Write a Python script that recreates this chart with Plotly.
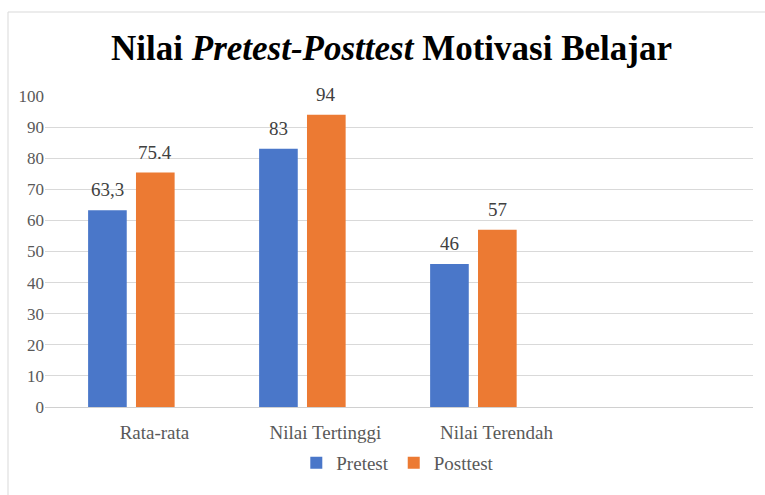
import plotly.graph_objects as go

categories = ["Rata-rata", "Nilai Tertinggi", "Nilai Terendah"]
pretest = [63.3, 83, 46]
posttest = [75.4, 94, 57]
pretest_labels = ["63,3", "83", "46"]
posttest_labels = ["75.4", "94", "57"]
y_ticks = [0, 10, 20, 30, 40, 50, 60, 70, 80, 90, 100]

FONT = "Liberation Serif"
x_pos = list(range(len(categories)))

BAR_W = 0.226
PRE_OFF = -0.251
POST_OFF = 0.029

fig = go.Figure()
fig.add_trace(go.Bar(
    x=x_pos, y=pretest, name="Pretest",
    marker=dict(color="#4a77c9", line=dict(width=0)),
    offset=PRE_OFF, width=BAR_W,
))
fig.add_trace(go.Bar(
    x=x_pos, y=posttest, name="Posttest",
    marker=dict(color="#ec7a33", line=dict(width=0)),
    offset=POST_OFF, width=BAR_W,
))

annotations = []
for vals, labels, off in ((pretest, pretest_labels, PRE_OFF), (posttest, posttest_labels, POST_OFF)):
    for xi, v, lab in zip(x_pos, vals, labels):
        annotations.append(dict(
            x=xi + off + BAR_W / 2, y=v, xref="x", yref="y",
            text=lab, showarrow=False, yanchor="bottom", xanchor="center",
            yshift=8, font=dict(family=FONT, size=19, color="#404040"),
        ))

L, R, T, B = 45, 12, 96, 88
pw, ph = 765 - L - R, 495 - T - B

fig.update_layout(
    width=765, height=495,
    margin=dict(l=L, r=R, t=T, b=B),
    paper_bgcolor="white", plot_bgcolor="white",
    title=dict(
        text="Nilai <i>Pretest-Posttest</i> Motivasi Belajar",
        font=dict(family=FONT, size=35, color="black", weight="bold"),
        x=391.5 / 765, xanchor="center", xref="container",
        y=1 - 48 / 495, yanchor="middle", yref="container",
    ),
    xaxis=dict(
        range=[-0.503, 3.637],
        tickvals=[v + 0.137 for v in x_pos], ticktext=categories,
        showgrid=False, zeroline=False,
        showline=True, linecolor="#d0d0d0", linewidth=1,
        ticks="", ticklabelstandoff=8, automargin=False,
        tickfont=dict(family=FONT, size=19, color="#595959"),
    ),
    yaxis=dict(
        range=[0, 100], tickvals=y_ticks,
        showgrid=True, gridcolor="#d9d9d9", gridwidth=1,
        zeroline=False, showline=False, ticks="", automargin=False,
        tickfont=dict(family=FONT, size=17, color="#595959"),
    ),
    legend=dict(
        orientation="h", x=0.52, xanchor="center", xref="container",
        y=1 - 463 / 495, yanchor="middle", yref="container",
        font=dict(family=FONT, size=19, color="#595959"),
        itemwidth=30, traceorder="normal",
    ),
    showlegend=True,
    annotations=annotations,
    shapes=[dict(
        type="rect", xref="paper", yref="paper",
        x0=(8 - L) / pw, x1=(780 - L) / pw,
        y0=(495 - B - 520) / ph, y1=(495 - B - 12) / ph,
        line=dict(color="#d9d9d9", width=1), fillcolor="rgba(0,0,0,0)",
        layer="below",
    )],
)

fig.write_html(
    "out.html",
    config={"displayModeBar": False},
    post_script="document.body.style.margin='0';",
)
